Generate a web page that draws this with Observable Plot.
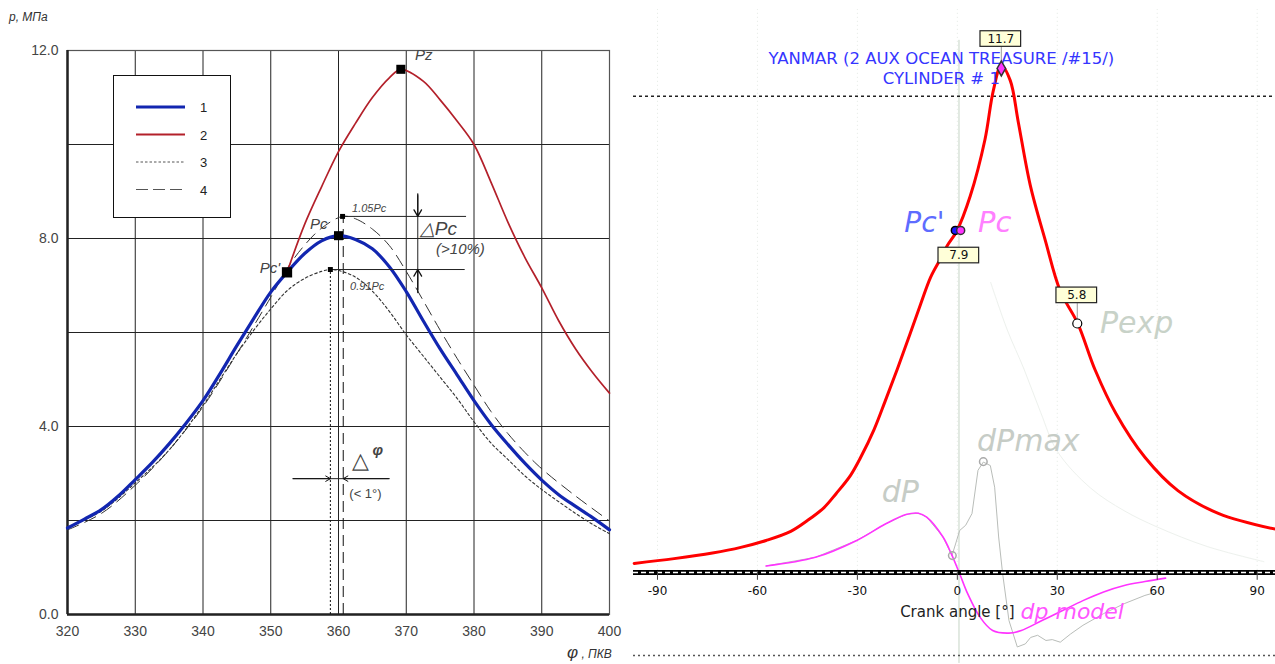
<!DOCTYPE html>
<html><head><meta charset="utf-8">
<script src="https://cdn.jsdelivr.net/npm/d3@7"></script>
<script src="https://cdn.jsdelivr.net/npm/@observablehq/plot@0.6"></script>
<style>
body{margin:0;background:#fff;width:1275px;height:664px;overflow:hidden;position:relative;font-family:"Liberation Sans",Arial,sans-serif}
#left{position:absolute;left:0;top:0}
#right{position:absolute;left:630px;top:0}
.abs{position:absolute;white-space:nowrap}
</style></head><body>
<div id="left"></div><div id="right"></div>
<div class="abs" style="left:9px;top:10px;font-style:italic;font-size:12px;color:#333">p, МПа</div>
<div class="abs" style="left:567px;top:643px;font-style:italic;font-size:12px;color:#333"><span style="font-size:17px">φ</span> , ПКВ</div>
<svg class="abs" id="legend" style="left:113px;top:75px" width="119" height="144"></svg>
<script>
// ---------- LEFT CHART DATA ----------
const xTicksL = [320, 330, 340, 350, 360, 370, 380, 390, 400];
const yTicksL = [0, 4, 8, 12];
const gridXL = [330, 340, 350, 360, 370, 380, 390];
const gridYL = [2, 4, 6, 8, 10];
const legendKeys = ["1", "2", "3", "4"];

// curve 1 (motoring, measured)
const phi1 = [320,322.5,325,327.5,330,332.5,335,337.5,340,342.5,345,347.5,350,352.4,355,357.5,360,362.5,365,367.5,370,372.5,375,377.5,380,382.5,385,387.5,390,392.5,395,397.5,400];
const p1 = [1.84,2.03,2.23,2.52,2.87,3.23,3.63,4.07,4.55,5.12,5.72,6.3,6.86,7.28,7.68,7.95,8.06,7.98,7.78,7.4,6.87,6.25,5.65,5.1,4.55,4.05,3.62,3.22,2.86,2.55,2.3,2.06,1.8];
// curve 2 (firing)
const phi2 = [352.4,355,357.5,360,362.5,365,367.5,369.2,372.5,375,377.5,380,382.5,385,387.5,390,392.5,395,397.5,400];
const p2 = [7.28,8.3,9.1,9.85,10.45,11.0,11.42,11.6,11.35,10.95,10.5,10.0,9.2,8.35,7.6,6.95,6.25,5.65,5.15,4.71];
// curve 3 (0.91 Pc)
const phi3 = [320,325,330,335,340,342.5,345,347.5,350,352.5,355,357.5,358.8,360,362.5,365,367.5,370,372.5,375,377.5,380,382.5,385,387.5,390,392.5,395,397.5,400];
const p3 = [1.85,2.2,2.8,3.5,4.45,5.0,5.55,6.05,6.5,6.9,7.15,7.3,7.34,7.32,7.18,6.88,6.45,5.95,5.5,5.05,4.6,4.1,3.65,3.3,2.95,2.66,2.4,2.15,1.92,1.72];
// curve 4 (1.05 Pc)
const phi4 = [320,325,330,335,340,345,350,352.5,355,357.5,360.6,362.5,365,367.5,370,372.5,375,377.5,380,382.5,385,387.5,390,395,400];
const p4 = [1.8,2.15,2.75,3.5,4.42,5.55,6.75,7.38,7.86,8.22,8.47,8.42,8.2,7.85,7.3,6.68,6.05,5.45,4.88,4.32,3.85,3.45,3.1,2.52,1.99];

// key points
const keyBig = [{x:352.4, y:7.28}, {x:360, y:8.06}, {x:369.2, y:11.6}];
const keySmall = [{x:360.6, y:8.47}, {x:358.8, y:7.34}];

// ---------- RIGHT CHART DATA ----------
const xTicksR = [-90, -60, -30, 0, 30, 60, 90];
const caP = [-97,-85,-73.5,-65,-57.4,-50,-45,-40,-36.4,-32,-29,-25,-21.6,-18,-14.2,-11,-8,-5,-3,-0.2,3.9,8.3,10.8,13.2,15.9,18.3,21.9,26.4,30.9,36.1,41.4,47.6,56.3,66.2,78.5,95.5];
const pR = [0.21,0.32,0.45,0.58,0.74,0.95,1.2,1.5,1.82,2.25,2.66,3.3,3.97,4.7,5.51,6.2,6.82,7.25,7.55,7.88,8.7,10.0,11.13,11.71,11.36,10.4,8.94,7.67,6.5,5.76,4.67,3.67,2.66,1.89,1.36,1.0];
const caModel = [-57.4,-42.6,-30.2,-21.6,-15.4,-11.7,-9.2,-4.3,-1.8,0.7,3.1,6.8,10.6,15.5,19.2,25.4,31.6,37.7,43.9,50.1,56.3,62.5];
const dpModel = [0.15,0.35,0.74,1.12,1.34,1.37,1.28,0.82,0.43,-0.03,-0.49,-1.03,-1.34,-1.4,-1.34,-1.11,-0.88,-0.65,-0.45,-0.3,-0.21,-0.13];
const caMeas = [-57.4,-42.6,-30.2,-21.6,-15.4,-11.7,-9.2,-4.3,-1.6,0.7,2.5,4.4,6.2,7.8,9.9,11.2,12.4,13.6,15.5,18,20.4,22,24.1,26.6,28.5,30.9,34,37.7,43.9,50.1,56.3,60];
const dpMeas = [0.15,0.35,0.74,1.12,1.34,1.37,1.28,0.82,0.39,0.97,1.09,1.36,2.36,2.55,2.47,1.97,0.82,-0.03,-1.11,-1.72,-1.65,-1.5,-1.45,-1.57,-1.55,-1.61,-1.42,-1.22,-0.95,-0.72,-0.53,-0.45];
const caExp = [10,15,20,25,30,40,50,60,75,92];
const pExp = [6.7,5.6,4.7,3.7,2.8,1.95,1.43,1.05,0.6,0.25];
const titleLines = ["YANMAR (2 AUX OCEAN TREASURE /#15/)", "CYLINDER # 1"];
const titleY = [11.86, 11.4];
const boxText = ["11.7", "7.9", "5.8"];
const boxX = [13.05, 0.45, 35.85];
const boxY = [12.32, 7.32, 6.4];

const zip = (xs, ys) => xs.map((x, i) => ({x, y: ys[i]}));

// ---------- LEFT PLOT ----------
const lab = (x, y, text, opts = {}) => Plot.text([{x, y, text}], {x: "x", y: "y", text: "text", textAnchor: "start", fontStyle: "italic", fill: "#444", fontSize: 15, ...opts});

const leftPlot = Plot.plot({
  width: 630, height: 664,
  marginLeft: 67, marginRight: 21, marginTop: 50, marginBottom: 50,
  x: {domain: [320, 400], ticks: xTicksL, tickSize: 0, tickPadding: 12, tickFormat: d => String(d), label: null},
  y: {domain: [0, 12], ticks: yTicksL, tickSize: 0, tickPadding: 9, tickFormat: d => d.toFixed(1), label: null},
  style: {fontFamily: "Liberation Sans, Arial, sans-serif", fontSize: "14px", color: "#444", background: "#fff"},
  marks: [
    Plot.ruleX(gridXL, {stroke: "#222", strokeWidth: 1}),
    Plot.ruleY(gridYL, {stroke: "#222", strokeWidth: 1}),
    Plot.frame({stroke: "#555", strokeWidth: 1.2}),
    Plot.ruleY([0], {stroke: "#222", strokeWidth: 2.5}),
    Plot.ruleX([320], {stroke: "#222", strokeWidth: 2.5}),
    // vertical markers of phase
    Plot.ruleX([{x: 358.8, y2: 7.34}], {x: "x", y1: 0, y2: "y2", stroke: "#111", strokeDasharray: "2,2", strokeWidth: 1}),
    Plot.ruleX([{x: 360.7, y2: 8.47}], {x: "x", y1: 0, y2: "y2", stroke: "#111", strokeDasharray: "11,6", strokeWidth: 1}),
    // curves
    Plot.line(zip(phi3, p3), {x: "x", y: "y", stroke: "#333", strokeWidth: 1.1, strokeDasharray: "2.5,2.5", curve: "catmull-rom"}),
    Plot.line(zip(phi4, p4), {x: "x", y: "y", stroke: "#333", strokeWidth: 1, strokeDasharray: "12,7", curve: "catmull-rom"}),
    Plot.line(zip(phi2, p2), {x: "x", y: "y", stroke: "#b3202a", strokeWidth: 1.7, curve: "catmull-rom"}),
    Plot.line(zip(phi1, p1), {x: "x", y: "y", stroke: "#1226b0", strokeWidth: 3.2, curve: "catmull-rom"}),
    // reference lines for ΔPc
    Plot.ruleY([{y: 8.47, x1: 360.6, x2: 378.9}], {y: "y", x1: "x1", x2: "x2", stroke: "#222"}),
    Plot.ruleY([{y: 7.34, x1: 358.8, x2: 378.7}], {y: "y", x1: "x1", x2: "x2", stroke: "#222"}),
    Plot.ruleX([{x: 371.7, y1: 6.89, y2: 8.91}], {x: "x", y1: "y1", y2: "y2", stroke: "#222"}),
    Plot.arrow([{x1: 371.7, y1: 8.95, x2: 371.7, y2: 8.47}, {x1: 371.7, y1: 6.85, x2: 371.7, y2: 7.34}], {x1: "x1", y1: "y1", x2: "x2", y2: "y2", stroke: "#111", headLength: 10, strokeWidth: 1.3}),
    // Δφ arrows
    Plot.ruleY([{y: 2.89, x1: 353.3, x2: 367.5}], {y: "y", x1: "x1", x2: "x2", stroke: "#222"}),
    Plot.arrow([{x1: 353.3, y1: 2.89, x2: 358.8, y2: 2.89}, {x1: 367.5, y1: 2.89, x2: 360.7, y2: 2.89}], {x1: "x1", y1: "y1", x2: "x2", y2: "y2", stroke: "#111", headLength: 8, strokeWidth: 1}),
    // key points
    Plot.dot(keyBig.slice(0, 1), {x: "x", y: "y", r: 5.8, symbol: "square", fill: "#000"}),
    Plot.dot(keyBig.slice(1), {x: "x", y: "y", r: 5.1, symbol: "square", fill: "#000"}),
    Plot.dot(keySmall, {x: "x", y: "y", r: 2.8, symbol: "square", fill: "#000"}),
    // labels
    lab(371.3, 11.9, "Pz"),
    lab(355.8, 8.3, "Pc"),
    lab(351.4, 7.36, "Pc'", {textAnchor: "end"}),
    lab(362.0, 8.64, "1.05Pc", {fontSize: 11}),
    lab(361.7, 6.98, "0.91Pc", {fontSize: 11}),
    lab(372.0, 8.2, "△Pc", {fontSize: 19}),
    lab(374.4, 7.78, "(>10%)", {fontSize: 15}),
    lab(362.0, 3.26, "△", {fontSize: 22, fontStyle: "normal"}),
    lab(365.0, 3.5, "φ", {fontSize: 15, fontWeight: "bold"}),
    lab(361.6, 2.56, "(< 1°)", {fontSize: 13, fontStyle: "normal"})
  ]
});
leftPlot.style.display = "block";
document.getElementById("left").append(leftPlot);

// legend
const styles = [
  {stroke: "#1226b0", w: 3.2, dash: null},
  {stroke: "#b3202a", w: 1.8, dash: null},
  {stroke: "#555", w: 1, dash: "2.5,2"},
  {stroke: "#555", w: 1, dash: "12,5"}
];
const lg = d3.select("#legend");
lg.append("rect").attr("x", 0.5).attr("y", 0.5).attr("width", 117).attr("height", 142).attr("fill", "#fff").attr("stroke", "#111");
legendKeys.forEach((k, i) => {
  const y = 32 + i * 27.5;
  const s = styles[i];
  lg.append("line").attr("x1", 23).attr("x2", 72).attr("y1", y).attr("y2", y)
    .attr("stroke", s.stroke).attr("stroke-width", s.w).attr("stroke-dasharray", s.dash);
  lg.append("text").attr("x", 87).attr("y", y + 5).attr("font-size", 13)
    .attr("font-family", "Liberation Sans, Arial, sans-serif").attr("fill", "#222").text(k);
});

// ---------- RIGHT PLOT ----------
const rlab = (x, y, text, fill, size, opts = {}) => Plot.text([{x, y, text}], {x: "x", y: "y", text: "text", fill, fontSize: size, fontStyle: "italic", fontFamily: "DejaVu Sans, sans-serif", ...opts});
const boxes = boxText.map((t, i) => ({t, x: boxX[i], y: boxY[i]}));
const titles = titleLines.map((t, i) => ({t, y: titleY[i]}));

const rightPlot = Plot.plot({
  width: 645, height: 664,
  marginLeft: 3, marginRight: 0, marginTop: 0, marginBottom: 0,
  x: {domain: [-97.2, 95.5], axis: null},
  y: {domain: [-2.125, 13.21], axis: null},
  style: {fontFamily: "DejaVu Sans, sans-serif", background: "#fff"},
  marks: [
    Plot.ruleX(xTicksR, {y1: 0.05, y2: 13, stroke: "#e3e9e3", strokeDasharray: "1,3"}),
    Plot.ruleX([0.5], {y1: -2.1, y2: 12.29, stroke: "#c5d4c5", strokeWidth: 1}),
    Plot.ruleY([11], {stroke: "#222", strokeWidth: 1.5, strokeDasharray: "3,3"}),
    Plot.ruleY([-1.92], {stroke: "#555", strokeWidth: 1.5, strokeDasharray: "2,3"}),
    Plot.line(zip(caExp, pExp), {x: "x", y: "y", stroke: "#edf1ed", strokeWidth: 1, curve: "catmull-rom"}),
    Plot.line(zip(caMeas, dpMeas), {x: "x", y: "y", stroke: "#b9bdb9", strokeWidth: 1, curve: "linear"}),
    Plot.line(zip(caModel, dpModel), {x: "x", y: "y", stroke: "#ff33ff", strokeWidth: 1.6, curve: "catmull-rom"}),
    Plot.line(zip(caP, pR), {x: "x", y: "y", stroke: "#ff0000", strokeWidth: 3, curve: "catmull-rom"}),
    // baseline
    Plot.ruleY([0], {stroke: "#000", strokeWidth: 5}),
    Plot.ruleY([0], {stroke: "#fff", strokeWidth: 1.4, strokeDasharray: "5,3"}),
    Plot.ruleX(xTicksR, {y1: 0, y2: -0.18, stroke: "#444"}),
    Plot.text(xTicksR, {x: d => d, y: 0, dy: 19, text: d => String(d), fontSize: 12, fill: "#111"}),
    Plot.text(["Crank angle [°]"], {x: 0, y: 0, dy: 40, text: d => d, fontSize: 15, fill: "#222"}),
    // title
    Plot.text(titles, {x: -4.8, y: "y", text: "t", fontSize: 16.5, fill: "#3535ff"}),
    // connector lines from boxes
    Plot.ruleX([{x: 13.2, y1: 11.64, y2: 12.15}, {x: 36, y1: 5.75, y2: 6.21}], {x: "x", y1: "y1", y2: "y2", stroke: "#999"}),
    // value boxes
    Plot.rect(boxes, {x1: d => d.x - 6.1, x2: d => d.x + 6.1, y1: d => d.y - 0.18, y2: d => d.y + 0.18, fill: "#ffffd8", stroke: "#222", strokeWidth: 1.2}),
    Plot.text(boxes, {x: "x", y: "y", text: "t", fontSize: 12, fill: "#111"}),
    // markers
    Plot.dot([{x: 36, y: 5.75}], {x: "x", y: "y", r: 4.5, fill: "#fff", stroke: "#000", strokeWidth: 1.2}),
    Plot.dot([{x: 7.8, y: 2.56}, {x: -1.5, y: 0.39}], {x: "x", y: "y", r: 3.8, fill: "none", stroke: "#aaa", strokeWidth: 1.5}),
    Plot.dot([{x: -0.6, y: 7.9}], {x: "x", y: "y", r: 4, fill: "#1a1aff", stroke: "#000"}),
    Plot.dot([{x: 1.0, y: 7.9}], {x: "x", y: "y", r: 4, fill: "#ff33ff", stroke: "#333"}),
    Plot.dot([{x: 13.2, y: 11.64}], {x: "x", y: "y", r: 4.5, symbol: "diamond", fill: "#ff33ff", stroke: "#333"}),
    // labels
    rlab(-9.9, 8.08, "Pc'", "#5e6cff", 28),
    rlab(11.2, 8.08, "Pc", "#ff80ff", 29),
    rlab(53.8, 5.75, "Pexp", "#c8d2c8", 30),
    rlab(21.3, 3.03, "dPmax", "#c6ccc6", 30),
    rlab(-17.1, 1.85, "dP", "#c6ccc6", 30),
    rlab(34.5, -0.92, "dp model", "#ff55ff", 22)
  ]
});
rightPlot.style.display = "block";
document.getElementById("right").append(rightPlot);
</script>
</body></html>
